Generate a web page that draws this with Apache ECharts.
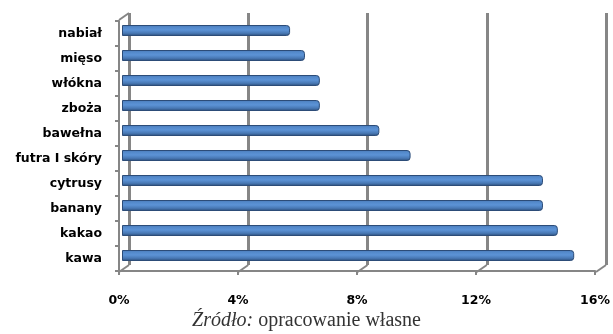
<!DOCTYPE html>
<html><head><meta charset="utf-8">
<script src="https://cdn.jsdelivr.net/npm/echarts@6/dist/echarts.min.js"></script>
<style>html,body{margin:0;padding:0;background:#fff}#c{width:613px;height:334px}</style>
</head><body><div id="c"></div>
<script>
const categories = ['kawa','kakao','banany','cytrusy','futra I skóry','bawełna','zboża','włókna','mięso','nabiał'];
const values = [15.2, 14.65, 14.15, 14.15, 9.7, 8.65, 6.65, 6.65, 6.15, 5.65];
const xTicks = [0, 4, 8, 12, 16];

const chart = echarts.init(document.getElementById('c'), null, {renderer:'canvas'});
const gray = '#868686';
const lblFont = {fontFamily:'DejaVu Sans', fontWeight:'bold', fontSize:12.5, color:'#000'};

chart.setOption({
  animation:false,
  title:{
    text:'{i|Źródło:} opracowanie własne',
    left:'center', top:306,
    textStyle:{fontFamily:'Liberation Serif', fontSize:20, fontWeight:'normal', color:'#333',
      rich:{i:{fontFamily:'Liberation Serif', fontStyle:'italic', fontSize:20, color:'#333'}}}
  },
  grid:[
    {left:119, right:17, top:21, bottom:63},
    {left:129, right:7, top:13, bottom:69},
    {left:122, right:15, top:18, bottom:66}
  ],
  xAxis:[
    {gridIndex:0, type:'value', min:0, max:16, interval:4,
     axisLine:{show:true, lineStyle:{color:gray, width:2}},
     axisTick:{show:true, length:4, lineStyle:{color:gray, width:2}},
     splitLine:{show:false},
     axisLabel:Object.assign({formatter:'{value}%', margin:23}, lblFont)},
    {gridIndex:1, type:'value', min:0, max:16, interval:4,
     axisLine:{show:false}, axisTick:{show:false}, axisLabel:{show:false},
     splitLine:{show:true, lineStyle:{color:gray, width:3}}},
    {gridIndex:2, type:'value', min:0, max:16, show:false}
  ],
  yAxis:[
    {gridIndex:0, type:'category', data:categories,
     axisLine:{show:true, lineStyle:{color:gray, width:2}},
     axisTick:{show:true, length:4, lineStyle:{color:gray, width:2}},
     axisLabel:Object.assign({margin:17}, lblFont)},
    {gridIndex:1, type:'value', min:0, max:1, show:false},
    {gridIndex:2, type:'category', data:categories, show:false}
  ],
  series:[
    {type:'custom', xAxisIndex:1, yAxisIndex:1, silent:true, z:1,
     data: xTicks.map(v=>[v,0]).concat([[0,1,'top']]),
     renderItem:function(params, api){
       const p = api.coord([api.value(0), api.value(1)]);
       return {type:'line', shape:{x1:p[0], y1:p[1], x2:p[0]-10, y2:p[1]+7},
               style:{stroke:gray, lineWidth:2}};
     }},
    {type:'bar', xAxisIndex:2, yAxisIndex:2, data:values, barWidth:11, z:3,
     itemStyle:{
       borderRadius:[0,3,3,0],
       borderColor:'#2c4c78', borderWidth:1,
       color:new echarts.graphic.LinearGradient(0,0,0,1,[
         {offset:0, color:'#3c649a'},
         {offset:0.15, color:'#5287c8'},
         {offset:0.45, color:'#5c93d6'},
         {offset:0.75, color:'#4878b4'},
         {offset:1, color:'#2a4a74'}
       ])
     }}
  ]
});
</script></body></html>
